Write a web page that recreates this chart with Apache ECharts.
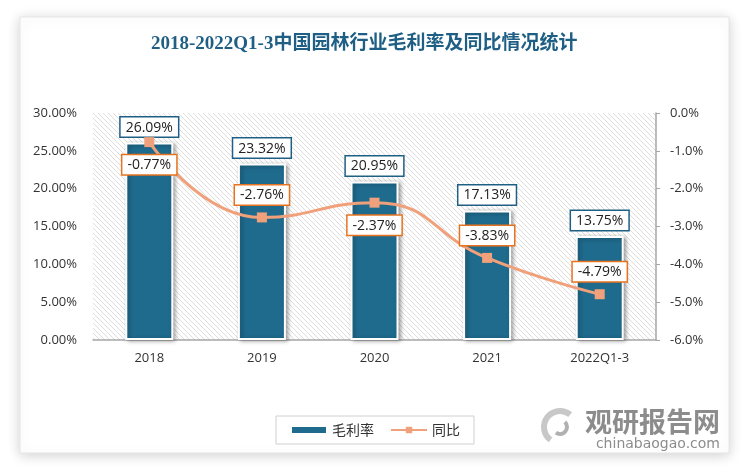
<!DOCTYPE html>
<html>
<head>
<meta charset="utf-8">
<script src="https://cdn.jsdelivr.net/npm/echarts@6/dist/echarts.min.js"></script>
<style>html,body{margin:0;padding:0;background:#fff;}#c{width:750px;height:472px;}</style>
</head>
<body>
<div id="c"></div>
<script>
var categories = ['2018', '2019', '2020', '2021', '2022Q1-3'];
var grossMargin = [26.09, 23.32, 20.95, 17.13, 13.75];
var yoyChange = [-0.77, -2.76, -2.37, -3.83, -4.79];
var yoyLabelPos = ['bottom', 'top', 'bottom', 'top', 'top'];
var leftTicks = { min: 0, max: 30, interval: 5 };
var rightTicks = { min: -6, max: 0, interval: 1 };

function hatch() {
  var n = 5;
  var c = document.createElement('canvas');
  c.width = n; c.height = n;
  var g = c.getContext('2d');
  g.fillStyle = '#ffffff'; g.fillRect(0, 0, n, n);
  g.strokeStyle = '#dedede'; g.lineWidth = 1;
  g.beginPath();
  g.moveTo(0, 0); g.lineTo(n, n);
  g.moveTo(-n / 2, n / 2); g.lineTo(n / 2, n * 1.5);
  g.moveTo(n / 2, -n / 2); g.lineTo(n * 1.5, n / 2);
  g.stroke();
  return { image: c, repeat: 'repeat' };
}

var font = '"Open Sans", "Noto Sans", sans-serif';
var chart = echarts.init(document.getElementById('c'), null, { renderer: 'canvas' });
chart.setOption({
  backgroundColor: '#ffffff',
  animation: false,
  title: {
    text: '2018-2022Q1-3中国园林行业毛利率及同比情况统计',
    left: 146, top: 30,
    textStyle: { color: '#1F5F85', fontSize: 19, fontWeight: 'bold', fontFamily: '"Liberation Serif", "Noto Sans CJK SC", serif' }
  },
  graphic: [
    { type: 'rect', z: -10, shape: { x: 20, y: 17, width: 709, height: 436 },
      style: { fill: '#fff', stroke: '#e6e6e6', lineWidth: 1, shadowBlur: 12, shadowColor: 'rgba(0,0,0,0.18)', shadowOffsetX: 0, shadowOffsetY: 2 } },
    { type: 'text', right: 30, top: 408, z: 5,
      style: { text: '观研报告网', fontSize: 27, fontWeight: 'bold', fill: '#8c8c8c', fontFamily: '"Noto Sans CJK SC", sans-serif' } },
    { type: 'text', right: 30, top: 437, z: 5,
      style: { text: 'chinabaogao.com', fontSize: 14, fill: '#8c8c8c', fontFamily: '"DejaVu Sans", sans-serif' } },
    { type: 'arc', z: 5, shape: { cx: 560, cy: 427, r: 16, startAngle: 2.2, endAngle: 5.4 }, style: { stroke: '#c8c8c8', lineWidth: 6, fill: null } },
    { type: 'arc', z: 5, shape: { cx: 560, cy: 427, r: 7, startAngle: -0.8, endAngle: 2.2 }, style: { stroke: '#b0b0b0', lineWidth: 4, fill: null } }
  ],
  legend: {
    bottom: 28, left: 'center',
    itemWidth: 36, itemHeight: 8, itemGap: 16,
    padding: [7, 14, 7, 14],
    borderColor: '#d0d0d0', borderWidth: 1,
    textStyle: { fontSize: 14, color: '#333', fontFamily: '"Noto Sans CJK SC", sans-serif' },
    data: [{ name: '毛利率', icon: 'rect' }, { name: '同比' }]
  },
  grid: {
    left: 93, right: 94, top: 113, bottom: 132,
    show: true, borderWidth: 0, backgroundColor: hatch()
  },
  xAxis: {
    type: 'category', data: categories,
    axisLine: { lineStyle: { color: '#a6a6a6', width: 1.5 } },
    axisTick: { show: false },
    axisLabel: { fontSize: 13, color: '#333', margin: 12, fontFamily: font }
  },
  yAxis: [
    { type: 'value', min: leftTicks.min, max: leftTicks.max, interval: leftTicks.interval,
      axisLine: { show: false }, axisTick: { show: false }, splitLine: { show: false },
      axisLabel: { fontSize: 13, color: '#333', margin: 16, fontFamily: font,
        formatter: function (v) { return v.toFixed(2) + '%'; } } },
    { type: 'value', min: rightTicks.min, max: rightTicks.max, interval: rightTicks.interval,
      axisLine: { show: true, lineStyle: { color: '#a6a6a6', width: 1.5 } },
      axisTick: { show: true, length: 4, lineStyle: { color: '#a6a6a6' } },
      splitLine: { show: false },
      axisLabel: { fontSize: 13, color: '#333', margin: 14, fontFamily: font,
        formatter: function (v) { return v.toFixed(1) + '%'; } } }
  ],
  series: [
    {
      name: '毛利率', type: 'bar', yAxisIndex: 0, barWidth: 48, z: 2,
      data: grossMargin,
      itemStyle: { color: '#1F6B8E', borderColor: '#ffffff', borderWidth: 2,
        shadowBlur: 4, shadowColor: 'rgba(0,0,0,0.35)', shadowOffsetX: 2, shadowOffsetY: 1 },
      label: {
        show: true, position: 'top', distance: 6,
        formatter: function (p) { return p.value.toFixed(2) + '%'; },
        fontSize: 14, color: '#222', fontFamily: font,
        backgroundColor: '#fff', borderColor: '#1F5F85', borderWidth: 1.5,
        padding: [3, 5, 2, 5]
      }
    },
    {
      name: '同比', type: 'line', yAxisIndex: 1, smooth: true, z: 5,
      symbol: 'rect', symbolSize: 10,
      data: yoyChange.map(function (v, i) {
        return { value: v, label: { position: yoyLabelPos[i] } };
      }),
      lineStyle: { color: '#F0A07A', width: 3 },
      itemStyle: { color: '#F0A07A' },
      label: {
        show: true, distance: 8,
        formatter: function (p) { return p.value.toFixed(2) + '%'; },
        fontSize: 14, color: '#222', fontFamily: font,
        backgroundColor: '#fff', borderColor: '#E8731E', borderWidth: 1.5,
        padding: [3, 5, 2, 5]
      }
    }
  ]
});
</script>
</body>
</html>
